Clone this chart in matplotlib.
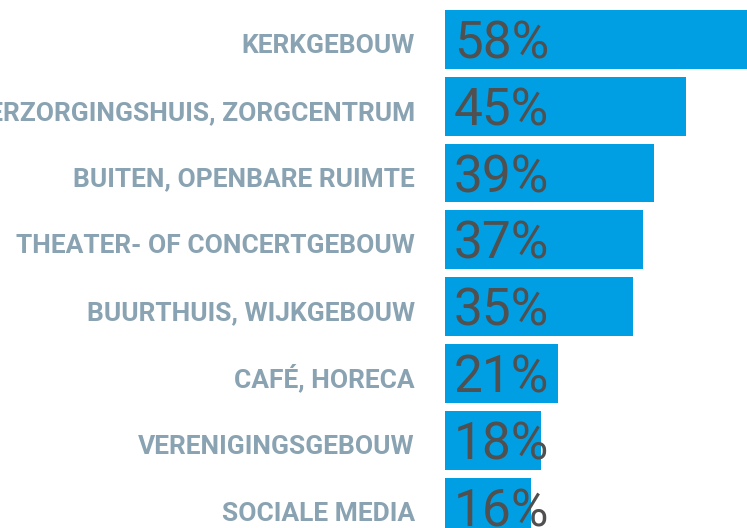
import matplotlib.pyplot as plt

# locaties en percentages
labels = ['KERKGEBOUW', 'VERZORGINGSHUIS, ZORGCENTRUM', 'BUITEN, OPENBARE RUIMTE',
          'THEATER- OF CONCERTGEBOUW', 'BUURTHUIS, WIJKGEBOUW', 'CAFÉ, HORECA',
          'VERENIGINGSGEBOUW', 'SOCIALE MEDIA']
values = [58, 45, 39, 37, 35, 21, 18, 16]

bar_color = '#009FE3'
label_color = '#8AA3B2'
pct_color = '#505050'

fig = plt.figure(figsize=(7.47, 5.28), dpi=100)
ax = fig.add_axes([445 / 747, 0, 1 - 445 / 747, 1])

ypos = list(range(len(values)))
ax.barh(ypos, values, height=0.88, color=bar_color)

ax.set_xlim(0, 302 / 5.36)
ax.set_ylim(7.313, -0.591)
ax.axis('off')

px = 0.72  # pixel -> points bij dpi 100
for i, (lab, v) in enumerate(zip(labels, values)):
    ax.annotate(lab, (0, i), xytext=(-30 * px, -13.5 * px), textcoords='offset points',
                ha='right', va='baseline', fontsize=19, fontweight='bold',
                family='Roboto', color=label_color, annotation_clip=False)
    ax.annotate(f'{v}%', (0, i), xytext=(9 * px, -19 * px), textcoords='offset points',
                ha='left', va='baseline', fontsize=37, fontweight='normal',
                family='Roboto', color=pct_color, annotation_clip=False)

fig.savefig('out.png', dpi=100)
